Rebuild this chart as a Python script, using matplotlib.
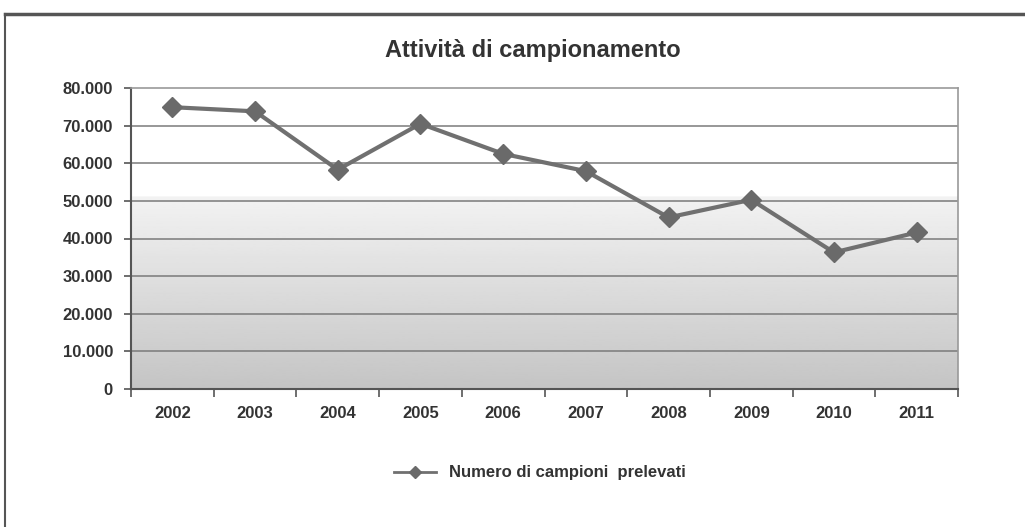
import numpy as np
import matplotlib.pyplot as plt
from matplotlib.lines import Line2D

years = ['2002', '2003', '2004', '2005', '2006', '2007', '2008', '2009', '2010', '2011']
campioni = [74900, 73800, 58300, 70500, 62500, 57900, 45600, 50300, 36300, 41600]
yticks = [0, 10000, 20000, 30000, 40000, 50000, 60000, 70000, 80000]
ytick_labels = ['0', '10.000', '20.000', '30.000', '40.000', '50.000', '60.000', '70.000', '80.000']

plt.rcParams['font.family'] = ['Liberation Sans', 'DejaVu Sans']

fig = plt.figure(figsize=(10.25, 5.27), dpi=100)
ax = fig.add_axes([131/1025, 1-389/527, (958-131)/1025, (389-88)/527])

x = np.arange(len(years))

# plot-area background: white on top, grey gradient in the lower part
grad = np.ones((200, 1))
t = np.linspace(0, 1, 200)  # 0 at bottom, 1 at top
grad[:, 0] = np.where(t > 0.64, 1.0, 0.77 + 0.18 * (t / 0.64))
ax.imshow(grad, cmap='gray', vmin=0, vmax=1, origin='lower', aspect='auto',
          extent=(-0.5, len(years) - 0.5, 0, 80000), zorder=0)

for v in yticks[1:-1]:
    ax.axhline(v, color='#7a7a7a', lw=1.1, zorder=1)

ax.plot(x, campioni, color='#707070', lw=3, marker='D', markersize=10,
        markerfacecolor='#6a6a6a', markeredgecolor='#6a6a6a', zorder=3)

ax.set_xlim(-0.5, len(years) - 0.5)
ax.set_ylim(0, 80000)
ax.set_yticks(yticks)
ax.set_yticklabels(ytick_labels, fontsize=12, fontweight='bold', color='#333333')
ax.set_xticks(np.arange(len(years) + 1) - 0.5)
ax.set_xticklabels([])
ax.set_xticks(x, minor=True)
ax.set_xticklabels(years, minor=True, fontsize=12, fontweight='bold', color='#333333')
ax.tick_params(axis='x', which='major', length=6, width=1.2, color='#555555', direction='out')
ax.tick_params(axis='x', which='minor', length=0, pad=12)
ax.tick_params(axis='y', length=5, width=1.2, color='#555555', pad=8)

for side in ['left', 'bottom']:
    ax.spines[side].set_color('#555555')
    ax.spines[side].set_linewidth(1.5)
for side in ['top', 'right']:
    ax.spines[side].set_color('#999999')
    ax.spines[side].set_linewidth(1.2)

fig.text(533/1025, 1-50/527, 'Attività di campionamento', ha='center', va='center',
         fontsize=17, fontweight='bold', color='#333333')

handle = Line2D([], [], color='#707070', lw=2, marker='D', markersize=6,
                markerfacecolor='#6a6a6a', markeredgecolor='#6a6a6a')
fig.legend([handle], ['Numero di campioni  prelevati'], loc='center',
           bbox_to_anchor=(540/1025, 1-473/527), frameon=False,
           prop={'size': 12, 'weight': 'bold'}, labelcolor='#333333',
           handlelength=2.5)

# outer frame
fig.add_artist(Line2D([5/1025, 1], [1-14/527, 1-14/527], transform=fig.transFigure,
                      color='#555555', lw=2.5))
fig.add_artist(Line2D([5/1025, 5/1025], [0, 1-14/527], transform=fig.transFigure,
                      color='#555555', lw=1.5))

fig.savefig('out.png', dpi=100)
